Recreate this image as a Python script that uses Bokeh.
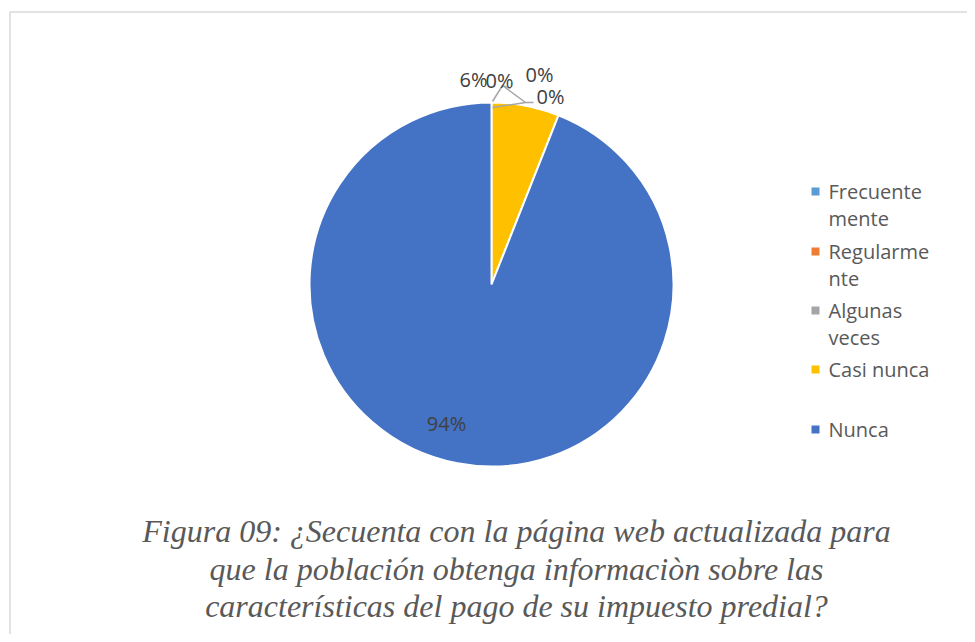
import math
from bokeh.plotting import figure
from bokeh.models import Range1d, ColumnDataSource
from bokeh.core.properties import value
from bokeh.embed import file_html
from bokeh.resources import INLINE

# ---- data ----
categories = ["Frecuentemente", "Regularmente", "Algunas veces", "Casi nunca", "Nunca"]
legend_labels = [["Frecuente", "mente"], ["Regularme", "nte"], ["Algunas", "veces"], ["Casi nunca"], ["Nunca"]]
values = [0, 0, 0, 6, 94]
colors = ["#5B9BD5", "#ED7D31", "#A5A5A5", "#FFC000", "#4472C4"]
caption_lines = [
    "Figura 09: ¿Secuenta con la página web actualizada para",
    "que la población obtenga informaciòn sobre las",
    "características del pago de su impuesto predial?",
]

W, H = 967, 634
def X(sx):
    return sx
def Y(sy):
    return H - sy

p = figure(width=W, height=H, output_backend="svg", toolbar_location=None,
           x_range=Range1d(0, W), y_range=Range1d(0, H), min_border=0)
p.axis.visible = False
p.grid.visible = False
p.outline_line_color = None
p.background_fill_color = "white"
p.border_fill_color = "white"

# chart frame (left and top edges visible)
p.line([X(9.5), X(9.5), W], [0, Y(11.5), Y(11.5)], line_color="#D9D9D9", line_width=1.5)

# pie
cx, cy, r = X(491), Y(284), 182
total = float(sum(values))
starts, ends, cols = [], [], []
cum = 0.0
pct_labels = []
for v, c in zip(values, colors):
    a0 = math.pi / 2 - 2 * math.pi * cum / total
    cum += v
    a1 = math.pi / 2 - 2 * math.pi * cum / total
    pct_labels.append(f"{round(100 * v / total)}%")
    if v > 0:
        starts.append(a0); ends.append(a1); cols.append(c)
src = ColumnDataSource(dict(x=[cx] * len(starts), y=[cy] * len(starts), s=starts, e=ends, c=cols))
p.wedge(x="x", y="y", radius=r, start_angle="s", end_angle="e", direction="clock",
        fill_color="c", line_color="white", line_width=2, source=src)

# leader lines for small slices
lc = "#A6A6A6"
p.line([X(492), X(502), X(510)], [Y(101), Y(85), Y(88)], line_color=lc, line_width=1.5)
p.line([X(502), X(525), X(533)], [Y(85), Y(102), Y(102)], line_color=lc, line_width=1.5)
p.line([X(492), X(525)], [Y(107), Y(102)], line_color=lc, line_width=1.5)

# data labels
label_pos = [(499, 80), (539, 74), (550, 96), (473, 79), (446, 423)]
p.text(x=[X(a) for a, b in label_pos], y=[Y(b) for a, b in label_pos], text=pct_labels,
       text_font=value("Open Sans"), text_font_size="20px", text_color="#404040",
       text_align="center", text_baseline="middle")

# legend
leg_y = [191, 251, 310, 369, 429]
p.rect(x=[X(815)] * 5, y=[Y(v) for v in leg_y], width=8, height=8, fill_color=colors, line_color=None)
tx, ty, tt = [], [], []
for lines, y0 in zip(legend_labels, leg_y):
    for i, t in enumerate(lines):
        tx.append(X(828)); ty.append(Y(y0 + 27 * i)); tt.append(t)
p.text(x=tx, y=ty, text=tt, text_font=value("Open Sans"), text_font_size="20px",
       text_color="#595959", text_align="left", text_baseline="middle")

# caption
cap_y = [530, 568, 605]
p.text(x=[X(516)] * 3, y=[Y(v) for v in cap_y], text=caption_lines,
       text_font=value("Liberation Serif"), text_font_style="italic", text_font_size="32px",
       text_color="#595959", text_align="center", text_baseline="middle")

open("out.html", "w").write(file_html(p, INLINE))
